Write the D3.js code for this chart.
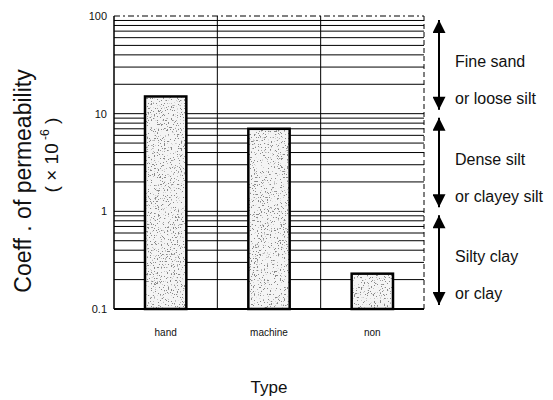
<!DOCTYPE html>
<html>
<head>
<meta charset="utf-8">
<script src="https://cdn.jsdelivr.net/npm/d3@7"></script>
<style>
  body { margin: 0; background: #fff; }
  text { font-family: "Liberation Sans", Arial, sans-serif; fill: #111; }
</style>
</head>
<body>
<div id="chart"></div>
<script>
var categories = ["hand", "machine", "non"],
    values = [15, 7, 0.23],
    yTicks = [0.1, 1, 10, 100],
    zoneBounds = [[10, 100], [1, 10], [0.1, 1]],
    zoneLine1 = ["Fine sand", "Dense silt", "Silty clay"],
    zoneLine2 = ["or loose silt", "or clayey silt", "or clay"];

var width = 553, height = 400,
    mLeft = 114, mRight = 424, mTop = 16, mBottom = 309;

var svg = d3.select("#chart")
    .append("svg")
    .attr("width", width)
    .attr("height", height);

var defs = svg.append("defs");

// speckled look of the bars
var f = defs.append("filter").attr("id", "speckle")
    .attr("x", 0).attr("y", 0).attr("width", 1).attr("height", 1);
f.append("feTurbulence")
    .attr("type", "fractalNoise")
    .attr("baseFrequency", 0.7)
    .attr("numOctaves", 3)
    .attr("seed", 5)
    .attr("result", "noise");
f.append("feColorMatrix")
    .attr("in", "noise")
    .attr("type", "matrix")
    .attr("values", "0 0 0 0 0.25  0 0 0 0 0.25  0 0 0 0 0.25  0 0 0 -16 6.1")
    .attr("result", "dots");
f.append("feFlood").attr("flood-color", "#f4f4f4").attr("result", "paper");
f.append("feMerge").selectAll("feMergeNode")
    .data(["paper", "dots"])
    .enter().append("feMergeNode").attr("in", d => d);

var marker = defs.append("marker")
    .attr("id", "arrowhead")
    .attr("viewBox", "0 0 10 10")
    .attr("refX", 10).attr("refY", 5)
    .attr("markerWidth", 16).attr("markerHeight", 13)
    .attr("markerUnits", "userSpaceOnUse")
    .attr("orient", "auto-start-reverse");
marker.append("path").attr("d", "M0,0L10,5L0,10Z").attr("fill", "#000");

var x = d3.scaleBand().domain(categories).range([mLeft, mRight]);
var y = d3.scaleLog().domain([0.1, 100]).range([mBottom, mTop]);

// horizontal log gridlines
var gridVals = [];
[0.1, 1, 10].forEach(function (dec) {
    for (var k = 1; k <= 9; k++) gridVals.push(dec * k);
});
gridVals.push(100);

svg.append("g")
    .selectAll("line")
    .data(gridVals)
    .enter()
    .append("line")
    .attr("x1", mLeft).attr("x2", mRight)
    .attr("y1", d => y(d)).attr("y2", d => y(d))
    .attr("stroke", "#000")
    .attr("stroke-width", function (d) { return d === 0.1 ? 2 : 1; })
    .attr("stroke-dasharray", function (d) { return d === 100 ? "6,3,2,3" : null; });

// vertical lines between categories
svg.append("g")
    .selectAll("line")
    .data(categories.slice(1))
    .enter()
    .append("line")
    .attr("x1", d => x(d)).attr("x2", d => x(d))
    .attr("y1", mTop).attr("y2", mBottom)
    .attr("stroke", "#000")
    .attr("stroke-width", 1);

svg.append("line")
    .attr("x1", mLeft).attr("x2", mLeft)
    .attr("y1", mTop).attr("y2", mBottom)
    .attr("stroke", "#000").attr("stroke-width", 1.5);
svg.append("line")
    .attr("x1", mRight).attr("x2", mRight)
    .attr("y1", mTop).attr("y2", mBottom)
    .attr("stroke", "#000").attr("stroke-width", 1)
    .attr("stroke-dasharray", "5,3");

// bars
var bw = x.bandwidth() * 0.4;
svg.append("g")
    .selectAll("rect")
    .data(values)
    .enter()
    .append("rect")
    .attr("x", (d, i) => x(categories[i]) + (x.bandwidth() - bw) / 2)
    .attr("y", d => y(d))
    .attr("width", bw)
    .attr("height", d => y(0.1) - y(d))
    .attr("fill", "#eee")
    .attr("filter", "url(#speckle)");
svg.append("g")
    .selectAll("rect")
    .data(values)
    .enter()
    .append("rect")
    .attr("x", (d, i) => x(categories[i]) + (x.bandwidth() - bw) / 2)
    .attr("y", d => y(d))
    .attr("width", bw)
    .attr("height", d => y(0.1) - y(d))
    .attr("fill", "none")
    .attr("stroke", "#000")
    .attr("stroke-width", 2.5);

// y axis labels
var yAxis = d3.axisLeft(y)
    .tickValues(yTicks)
    .tickFormat(d => String(d))
    .tickSize(0)
    .tickPadding(7);
var ya = svg.append("g").attr("transform", "translate(" + mLeft + ",0)").call(yAxis);
ya.select(".domain").remove();
ya.selectAll("text")
    .style("font-family", "'Liberation Sans', sans-serif")
    .style("font-size", "11px")
    .attr("fill", "#111");

// x axis labels
var xAxis = d3.axisBottom(x).tickSize(0).tickPadding(20);
var xa = svg.append("g").attr("transform", "translate(0," + mBottom + ")").call(xAxis);
xa.select(".domain").remove();
xa.selectAll("text")
    .style("font-family", "'Liberation Sans', sans-serif")
    .style("font-size", "10px")
    .attr("fill", "#111");

svg.append("text")
    .attr("x", (mLeft + mRight) / 2)
    .attr("y", 393)
    .attr("text-anchor", "middle")
    .style("font-size", "17px")
    .text("Type");

// y title
svg.append("text")
    .attr("transform", "translate(31,181) rotate(-90)")
    .attr("text-anchor", "middle")
    .style("font-size", "23px")
    .text("Coeff . of permeability");
var t2 = svg.append("text")
    .attr("transform", "translate(58,155) rotate(-90)")
    .attr("text-anchor", "middle")
    .style("font-size", "19px");
t2.append("tspan").text("( \u00d7 10");
t2.append("tspan").attr("dy", -9).style("font-size", "12px").text(" -6");
t2.append("tspan").attr("dy", 9).text(" )");

// zone arrows and labels
var zones = svg.append("g")
    .selectAll("g")
    .data(zoneBounds)
    .enter()
    .append("g");
zones.append("line")
    .attr("x1", 439).attr("x2", 439)
    .attr("y1", d => y(d[1]) + 4)
    .attr("y2", d => y(d[0]) - 4)
    .attr("stroke", "#000")
    .attr("stroke-width", 2)
    .attr("marker-start", "url(#arrowhead)")
    .attr("marker-end", "url(#arrowhead)");
zones.append("text")
    .attr("x", 455)
    .attr("y", d => y(d[1]) + 51)
    .style("font-size", "16px")
    .text((d, i) => zoneLine1[i]);
zones.append("text")
    .attr("x", 455)
    .attr("y", d => y(d[1]) + 88)
    .style("font-size", "16px")
    .text((d, i) => zoneLine2[i]);
</script>
</body>
</html>
